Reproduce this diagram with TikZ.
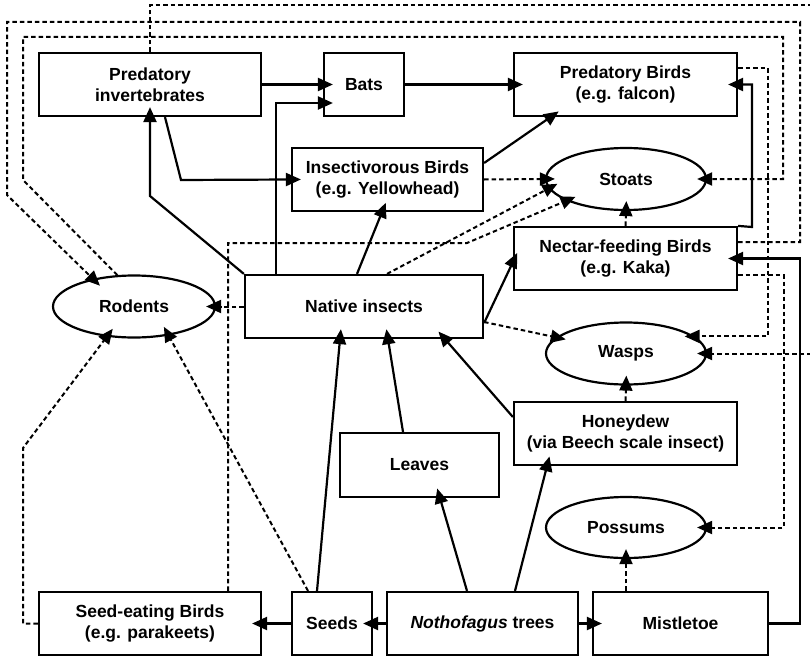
\documentclass[tikz,border=0pt]{standalone}
\usepackage{fontspec}
\setmainfont{Liberation Sans}
\usetikzlibrary{arrows.meta,shapes.geometric}
\begin{document}
\begin{tikzpicture}[x=1pt,y=-1pt,
  lbl/.style={font=\bfseries\fontsize{17.5}{21}\selectfont,align=center},
  box/.style={lbl,draw,line width=2.2pt,rectangle,inner sep=0pt},
  oval/.style={lbl,draw,line width=2.2pt,ellipse,inner sep=0pt},
  sol/.style={line width=2.2pt,-{Triangle[length=15pt,width=13pt]},shorten >=-10pt},
  dsh/.style={line width=2pt,dash pattern=on 4.5pt off 3pt,-{Triangle[length=15pt,width=13pt]},shorten >=-10pt}]
\useasboundingbox (0,0) rectangle (810,658);
% nodes
\node[box,minimum width=222pt,minimum height=63pt] (PI) at (150,84.5) {Predatory\\invertebrates};
\node[box,minimum width=80pt,minimum height=63pt] (Bats) at (364,84.5) {Bats};
\node[box,minimum width=223pt,minimum height=63pt] (PB) at (625.5,84.5) {Predatory Birds\\(e.g. falcon)};
\node[box,minimum width=191pt,minimum height=63pt] (IB) at (387.5,179.5) {Insectivorous Birds\\(e.g. Yellowhead)};
\node[oval,minimum width=160pt,minimum height=62pt] (Stoats) at (626,179) {Stoats};
\node[box,minimum width=223pt,minimum height=63pt] (NFB) at (625.5,258.5) {Nectar-feeding Birds\\(e.g. Kaka)};
\node[box,minimum width=238pt,minimum height=63pt] (NI) at (364,306.5) {Native insects};
\node[oval,minimum width=162pt,minimum height=62pt] (Rodents) at (134,306.5) {Rodents};
\node[oval,minimum width=160pt,minimum height=62pt] (Wasps) at (626,353.5) {Wasps};
\node[box,minimum width=223pt,minimum height=63pt] (Honey) at (625.5,433.5) {Honeydew\\(via Beech scale insect)};
\node[box,minimum width=159pt,minimum height=64pt] (Leaves) at (419.5,465) {Leaves};
\node[oval,minimum width=160pt,minimum height=61pt] (Possums) at (626,527.5) {Possums};
\node[box,minimum width=222pt,minimum height=63pt] (SEB) at (150,623.5) {Seed-eating Birds\\(e.g. parakeets)};
\node[box,minimum width=80pt,minimum height=63pt] (Seeds) at (332,623.5) {Seeds};
\node[box,minimum width=191pt,minimum height=63pt] (Noth) at (482.5,623.5) {\textit{Nothofagus} trees};
\node[box,minimum width=175pt,minimum height=63pt] (Mist) at (680.5,623.5) {Mistletoe};
% solid connectors
\draw[sol] (PI.east) -- (Bats.west);
\draw[sol] ([xshift=-88pt]NI.north) |- ([yshift=-18.5pt]Bats.west);
\draw[sol] (Bats.east) -- (PB.west);
\draw[sol] ([xshift=15pt]PI.south) -- (181,180) -- (IB.west);
\draw[sol] (NI.north west) -- (150,196) -- (PI.south);
\draw[sol] ([xshift=-7pt]NI.north) -- ([xshift=-5.5pt]IB.south);
\draw[sol] ([yshift=16.5pt]IB.east) -- ([xshift=-75pt]PB.south);
\draw[sol] ([yshift=-16.5pt]NI.east) -- ([yshift=-3.5pt]NFB.west);
\draw[sol] (NFB.north east) -- (752,227) |- (PB.east);
\draw[sol] (Mist.east) -- (800,623.5) |- (NFB.east);
\draw[sol] (Noth.west) -- (Seeds.east);
\draw[sol] (Seeds.west) -- (SEB.east);
\draw[sol] (Noth.east) -- (Mist.west);
\draw[sol] ([xshift=-15.5pt]Noth.north) -- ([xshift=20.5pt]Leaves.south);
\draw[sol] ([xshift=32.5pt]Noth.north) -- ([xshift=-78.5pt]Honey.south);
\draw[sol] ([xshift=-16.5pt]Leaves.north) -- ([xshift=24pt]NI.south);
\draw[sol] ([xshift=-15pt]Seeds.north) -- ([xshift=-24pt]NI.south);
\draw[sol] ([yshift=16.5pt]Honey.west) -- ([xshift=81pt]NI.south);
% dashed connectors
\draw[dsh] (NI.west) -- (Rodents.east);
\draw[dsh] (IB.east) -- (Stoats.west);
\draw[dsh] ([xshift=23pt]NI.north) -- (Stoats.187);
\draw[dsh] ([xshift=78pt]SEB.north) |- (467,243) -- (Stoats.200);
\draw[dsh] ([xshift=-24pt]Seeds.north) -- (Rodents.-40);
\draw[dsh] (SEB.west) -- (23,623.5) -- (23,448) -- (Rodents.228);
\draw[dsh] ([yshift=16.5pt]NFB.east) -- (800,242) -- (800,22) -- (7,22) -- (7,195) -- (Rodents.146);
\draw[dsh] (Rodents.118) -- (23,180) -- (23,37) -- (783,37) |- (Stoats.east);
\draw[dsh] ([yshift=16.5pt]PB.east) -- (768,68) |- (Wasps.14);
\draw[dsh] (PI.north) -- (150,5) -- (812,5) -- (812,353.5) -- (Wasps.east);
\draw[dsh] ([yshift=-16.5pt]NFB.east) -- (784,275) |- (Possums.east);
\draw[dsh] ([yshift=-15.5pt]NI.east) -- (Wasps.167);
\draw[dsh] (Honey.north) -- (Wasps.south);
\draw[dsh] ([xshift=-54.5pt]Mist.north) -- (Possums.south);
\draw[dsh] (NFB.north) -- (Stoats.south);
\end{tikzpicture}
\end{document}
